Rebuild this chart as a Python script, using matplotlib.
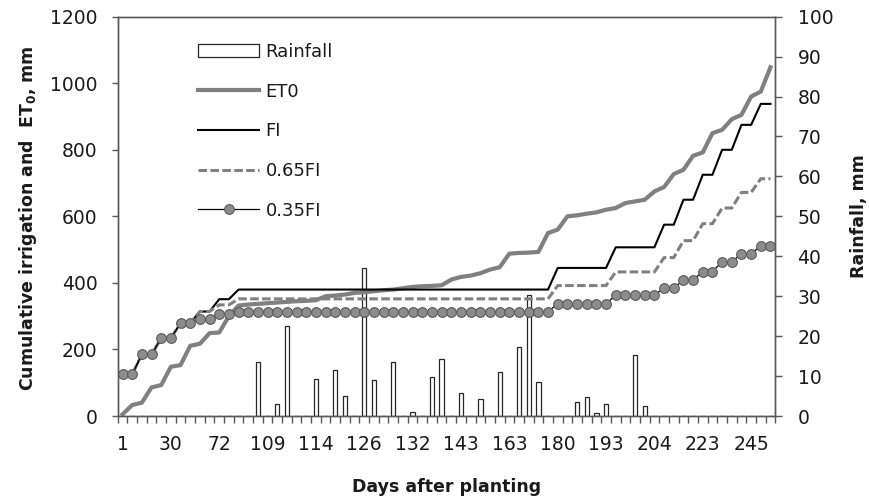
import matplotlib
matplotlib.use("Agg")
import matplotlib.pyplot as plt
import numpy as np

# x categories (68 irrigation/measurement dates), labelled every 5th one
tick_labels = ["1", "30", "72", "109", "114", "126", "132", "143", "163", "180",
               "193", "204", "223", "245"]
n_cat = 68

et0 = [5, 33, 40, 86, 93, 148, 153, 211, 217, 249, 251, 300,
       332, 335, 337, 339, 341, 343, 345, 346, 348,
       360, 362, 365, 370, 372, 375, 378, 380, 384, 388, 390, 391, 393,
       410, 418, 422, 429, 440, 447, 488, 490, 491, 493,
       550, 560, 600, 603, 608, 612, 620, 625, 640, 645, 650,
       675, 688, 727, 740, 782, 792, 850, 860, 892, 905, 960, 975, 1048]

fi = [125, 125, 185, 185, 234, 234, 279, 279, 314, 314, 351, 351,
      380, 380, 380, 380, 380, 380, 380, 380, 380, 380, 380,
      380, 380, 380, 380, 380, 380, 380, 380, 380, 380, 380,
      380, 380, 380, 380, 380, 380, 380, 380, 380, 380, 380,
      445, 445, 445, 445, 445, 445, 507, 507, 507, 507, 507,
      575, 575, 650, 650, 725, 725, 800, 800, 875, 875, 938, 938]

fi65 = [125, 125, 185, 185, 234, 234, 279, 279, 314, 314, 334, 334,
        352, 352, 352, 352, 352, 352, 352, 352, 352, 352, 352,
        352, 352, 352, 352, 352, 352, 352, 352, 352, 352, 352,
        352, 352, 352, 352, 352, 352, 352, 352, 352, 352, 352,
        392, 392, 392, 392, 392, 392, 433, 433, 433, 433, 433,
        476, 476, 527, 527, 578, 578, 625, 625, 672, 672, 713, 713]

fi35 = [125, 125, 185, 185, 234, 234, 279, 279, 292, 292, 306, 306,
        314, 314, 314, 314, 314, 314, 314, 314, 314, 314, 314,
        314, 314, 314, 314, 314, 314, 314, 314, 314, 314, 314,
        314, 314, 314, 314, 314, 314, 314, 314, 314, 314, 314,
        337, 337, 337, 337, 337, 337, 364, 364, 364, 364, 364,
        384, 384, 409, 409, 434, 434, 464, 464, 487, 487, 511, 511]

rain = [0, 0, 0, 0, 0, 0, 0, 0, 0, 0, 0, 0, 0, 0, 13.4, 0, 3.0, 22.5, 0, 0,
        9.3, 0, 11.4, 4.9, 0, 37.0, 9.1, 0, 13.5, 0, 0.9, 0, 9.8, 14.4, 0,
        5.8, 0, 4.3, 0, 10.9, 0, 17.4, 30.3, 8.5, 0, 0, 0, 3.5, 4.8, 0.8,
        3.0, 0, 0, 15.4, 2.5, 0, 0, 0, 0, 0, 0, 0, 0, 0, 0, 0, 0, 0]

W, H = 870, 498
fig = plt.figure(figsize=(W / 100, H / 100), dpi=100)
x0, x1, y0, y1 = 117.7, 775.3, 16.7, 416.0
ax = fig.add_axes([x0 / W, 1 - y1 / H, (x1 - x0) / W, (y1 - y0) / H])
ax2 = ax.twinx()
# lines sit above the rainfall bars
ax.set_zorder(ax2.get_zorder() + 1)
ax.patch.set_visible(False)

x = np.arange(n_cat)
spine_c = "#595959"
txt_c = "#1a1a1a"

bars = ax2.bar(x, rain, width=0.45, color="white", edgecolor="#262626",
               linewidth=0.9, label="Rainfall")

l1, = ax.plot(x, et0, color="#808080", lw=3.0, label="ET0", solid_joinstyle="round")
l2, = ax.plot(x, fi, color="black", lw=1.5, label="FI")
l3, = ax.plot(x, fi65, color="#808080", lw=2.2, dashes=(2.8, 1.1), label="0.65FI")
l4, = ax.plot(x, fi35, color="black", lw=0.9, marker="o", markersize=7,
              markerfacecolor="#8c8c8c", markeredgecolor="#5a5a5a",
              markeredgewidth=0.8, label="0.35FI")

ax.set_xlim(-0.5, n_cat - 0.5)
ax.set_ylim(0, 1200)
ax2.set_ylim(0, 100)
ax.set_yticks(range(0, 1201, 200))
ax2.set_yticks(range(0, 101, 10))
ax.set_xticks(np.arange(0, n_cat, 5))
ax.set_xticklabels(tick_labels)
ax.set_xticks(np.arange(-0.5, n_cat, 1), minor=True)

for a in (ax, ax2):
    for s in a.spines.values():
        s.set_color(spine_c)
        s.set_linewidth(1.0)
ax.tick_params(axis="x", which="major", length=0, pad=14, labelsize=13.5, labelcolor=txt_c)
ax.tick_params(axis="x", which="minor", length=5, width=1, color=spine_c, direction="out")
ax.tick_params(axis="y", length=4.5, width=1, color=spine_c, pad=10, labelsize=13.5, labelcolor=txt_c)
ax2.tick_params(axis="y", length=5, width=1, color=spine_c, pad=11, labelsize=13.5, labelcolor=txt_c)

fig.text(28 / W, 1 - 218 / H, "Cumulative irrigation and  ET$_\\mathbf{0}$, mm",
         rotation=90, ha="center", va="center", fontsize=12.5, fontweight="bold", color=txt_c)
fig.text(859 / W, 1 - 216 / H, "Rainfall, mm", rotation=90, ha="center", va="center",
         fontsize=12.5, fontweight="bold", color=txt_c)
fig.text(446.5 / W, 1 - 487 / H, "Days after planting", ha="center", va="center",
         fontsize=12.5, fontweight="bold", color=txt_c)

ax.legend([bars, l1, l2, l3, l4], ["Rainfall", "ET0", "FI", "0.65FI", "0.35FI"],
          loc="upper left", bbox_to_anchor=(198 / W, 1 - 43 / H), bbox_transform=fig.transFigure,
          borderpad=0, borderaxespad=0, frameon=False, handlelength=3.4,
          handletextpad=0.35, labelspacing=1.2, fontsize=13, labelcolor=txt_c)

fig.savefig("out.png", dpi=100)
